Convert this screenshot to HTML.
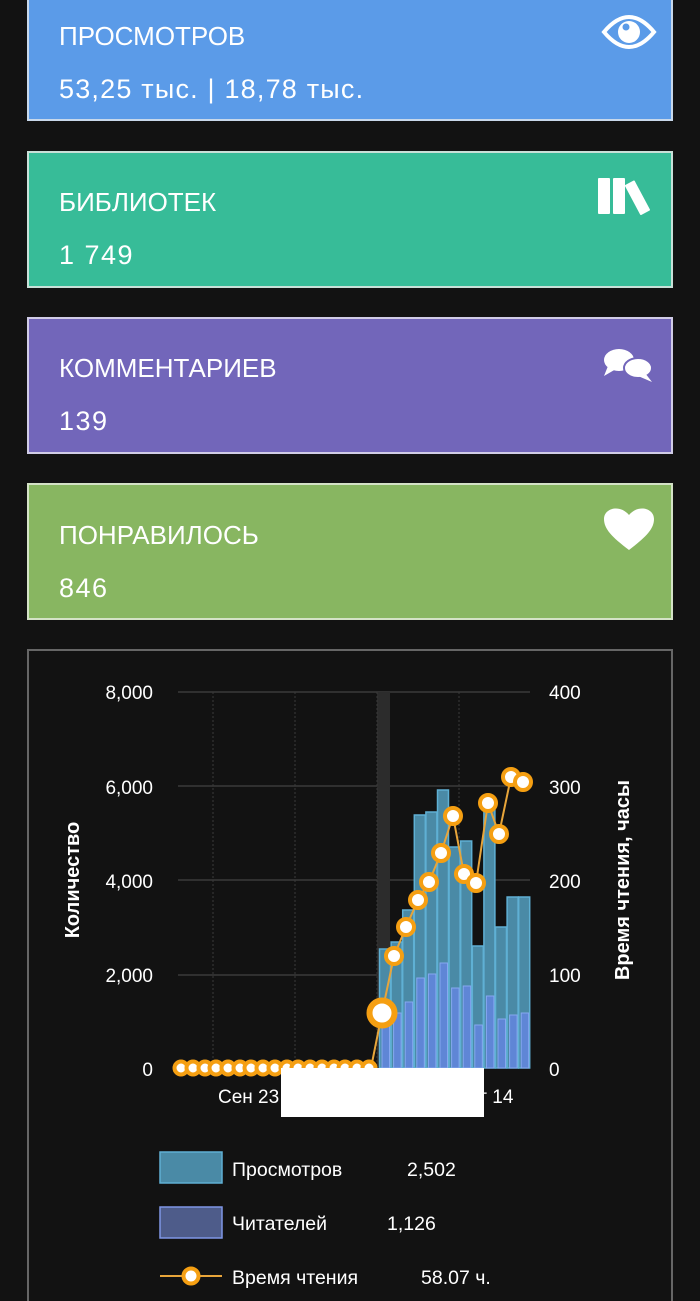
<!DOCTYPE html>
<html><head><meta charset="utf-8"><style>
html,body{margin:0;padding:0;background:#121212;}
svg{display:block;font-family:"Liberation Sans",sans-serif;}
</style></head><body>
<svg width="700" height="1301" viewBox="0 0 700 1301" xmlns="http://www.w3.org/2000/svg">
<rect width="700" height="1301" fill="#121212"/>
<!-- cards -->
<g font-size="26">
<rect x="28" y="-4" width="644" height="124" fill="#5b9be8" stroke="#c8d8ea" stroke-width="2"/>
<text x="59" y="45" fill="#fff">ПРОСМОТРОВ</text>
<text x="59" y="98" fill="#fff" font-size="27" letter-spacing="1.2">53,25 тыс. | 18,78 тыс.</text>
<g transform="translate(629,32)" fill="#fff">
<path d="M-25,0 Q0,-30 25,0 Q0,30 -25,0 Z" fill="none" stroke="#fff" stroke-width="4"/>
<circle cx="0" cy="0" r="11"/>
<circle cx="-3" cy="-5" r="3.5" fill="#5b9be8"/>
</g>
<rect x="28" y="152" width="644" height="135" fill="#37bc98" stroke="#c8e0d8" stroke-width="2"/>
<text x="59" y="211" fill="#fff">БИБЛИОТЕК</text>
<text x="59" y="264" fill="#fff" font-size="27" letter-spacing="1.5">1 749</text>
<g fill="#fff">
<rect x="598" y="178" width="12" height="36" rx="1"/>
<rect x="613" y="178" width="12" height="36" rx="1"/>
<rect x="632" y="181" width="11" height="34" rx="1" transform="rotate(-28 637 198)"/>
</g>
<rect x="28" y="318" width="644" height="135" fill="#7266ba" stroke="#d0cce6" stroke-width="2"/>
<text x="59" y="377" fill="#fff">КОММЕНТАРИЕВ</text>
<text x="59" y="430" fill="#fff" font-size="27" letter-spacing="1.5">139</text>
<g fill="#fff">
<ellipse cx="619" cy="360" rx="15" ry="11"/>
<path d="M608,366 L604,376 L616,369 Z"/>
<ellipse cx="638" cy="368" rx="14" ry="10" stroke="#7266ba" stroke-width="2"/>
<path d="M645,373 L652,382 L638,376 Z"/>
</g>
<rect x="28" y="484" width="644" height="135" fill="#88b661" stroke="#d4e2c6" stroke-width="2"/>
<text x="59" y="544" fill="#fff">ПОНРАВИЛОСЬ</text>
<text x="59" y="597" fill="#fff" font-size="27" letter-spacing="1.5">846</text>
<path d="M629,550 C612,537 604,529 604,519 C604,508 620,504 629,515 C638,504 654,508 654,519 C654,529 646,537 629,550 Z" fill="#fff"/>
</g>
<!-- chart box -->
<rect x="28" y="650" width="644" height="660" fill="#121212" stroke="#666" stroke-width="2"/>
<!-- grid -->
<g stroke="#3a3a3a" stroke-width="1.5">
<line x1="178" y1="692" x2="530" y2="692"/>
<line x1="178" y1="786" x2="530" y2="786"/>
<line x1="178" y1="880" x2="530" y2="880"/>
<line x1="178" y1="975" x2="530" y2="975"/>
</g>
<rect x="377" y="692" width="13" height="376" fill="#2c2c2c"/>
<g stroke="#3a3a3a" stroke-width="1" stroke-dasharray="2,2">
<line x1="213" y1="692" x2="213" y2="1068"/>
<line x1="295" y1="692" x2="295" y2="1068"/>
<line x1="377" y1="692" x2="377" y2="1068"/>
<line x1="459" y1="692" x2="459" y2="1068"/>
</g>
<!-- axis labels -->
<g fill="#fff" font-size="19" text-anchor="end">
<text x="153" y="699">8,000</text>
<text x="153" y="794">6,000</text>
<text x="153" y="888">4,000</text>
<text x="153" y="982">2,000</text>
<text x="153" y="1076">0</text>
</g>
<g fill="#fff" font-size="19">
<text x="549" y="699">400</text>
<text x="549" y="794">300</text>
<text x="549" y="888">200</text>
<text x="549" y="982">100</text>
<text x="549" y="1076">0</text>
</g>
<text transform="translate(79,880) rotate(-90)" fill="#fff" font-size="20" font-weight="bold" text-anchor="middle">Количество</text>
<text transform="translate(629,880) rotate(-90)" fill="#fff" font-size="20" font-weight="bold" text-anchor="middle">Время чтения, часы</text>
<!-- bars -->
<g fill="#4a8aa6" stroke="#5fb0d4" stroke-width="1.5">
<rect x="379.5" y="949" width="11" height="119"/>
<rect x="391.1" y="942" width="11" height="126"/>
<rect x="402.7" y="910" width="11" height="158"/>
<rect x="414.3" y="815" width="11" height="253"/>
<rect x="425.9" y="812" width="11" height="256"/>
<rect x="437.5" y="790" width="11" height="278"/>
<rect x="449.1" y="847" width="11" height="221"/>
<rect x="460.7" y="841" width="11" height="227"/>
<rect x="472.3" y="946" width="11" height="122"/>
<rect x="483.9" y="803" width="11" height="265"/>
<rect x="495.5" y="927" width="11" height="141"/>
<rect x="507.1" y="897" width="11" height="171"/>
<rect x="518.7" y="897" width="11" height="171"/>
</g>
<g fill="#5f86d6" stroke="#86a8f0" stroke-width="1">
<rect x="382" y="1015" width="7.5" height="53"/>
<rect x="393.6" y="1013" width="7.5" height="55"/>
<rect x="405.2" y="1002" width="7.5" height="66"/>
<rect x="416.8" y="978" width="7.5" height="90"/>
<rect x="428.4" y="974" width="7.5" height="94"/>
<rect x="440" y="963" width="7.5" height="105"/>
<rect x="451.6" y="988" width="7.5" height="80"/>
<rect x="463.2" y="986" width="7.5" height="82"/>
<rect x="474.8" y="1025" width="7.5" height="43"/>
<rect x="486.4" y="996" width="7.5" height="72"/>
<rect x="498" y="1019" width="7.5" height="49"/>
<rect x="509.6" y="1015" width="7.5" height="53"/>
<rect x="521.2" y="1013" width="7.5" height="55"/>
</g>
<!-- line -->
<polyline fill="none" stroke="#e8a53a" stroke-width="2" points="181,1068 371,1068 382,1013 394,956 406,927 418,900 429,882 441,853 453,816 464,874 476,883 488,803 499,834 511,777 523,782"/>
<g fill="#fff" stroke="#f59f12" stroke-width="4">
<circle cx="181" cy="1068" r="6.5"/><circle cx="193" cy="1068" r="6.5"/><circle cx="205" cy="1068" r="6.5"/><circle cx="216" cy="1068" r="6.5"/><circle cx="228" cy="1068" r="6.5"/><circle cx="240" cy="1068" r="6.5"/><circle cx="251" cy="1068" r="6.5"/><circle cx="263" cy="1068" r="6.5"/><circle cx="275" cy="1068" r="6.5"/><circle cx="287" cy="1068" r="6.5"/><circle cx="298" cy="1068" r="6.5"/><circle cx="310" cy="1068" r="6.5"/><circle cx="322" cy="1068" r="6.5"/><circle cx="334" cy="1068" r="6.5"/><circle cx="345" cy="1068" r="6.5"/><circle cx="357" cy="1068" r="6.5"/><circle cx="369" cy="1068" r="6.5"/>
<circle cx="382" cy="1013" r="12.5" stroke-width="6"/>
<circle cx="394" cy="956" r="8"/><circle cx="406" cy="927" r="8"/><circle cx="418" cy="900" r="8"/><circle cx="429" cy="882" r="8"/><circle cx="441" cy="853" r="8"/><circle cx="453" cy="816" r="8"/><circle cx="464" cy="874" r="8"/><circle cx="476" cy="883" r="8"/><circle cx="488" cy="803" r="8"/><circle cx="499" cy="834" r="8"/><circle cx="511" cy="777" r="8"/><circle cx="523" cy="782" r="8"/>
</g>
<!-- x labels -->
<text x="218" y="1103" fill="#fff" font-size="19">Сен 23</text>
<text x="455" y="1103" fill="#fff" font-size="19">Окт 14</text>
<rect x="281" y="1068" width="203" height="49" fill="#fff"/>
<!-- legend -->
<g font-size="19.5" fill="#fff">
<rect x="160" y="1152" width="62" height="31" fill="#4a8aa6" stroke="#5fb0d4" stroke-width="1.5"/>
<text x="232" y="1176">Просмотров</text>
<text x="407" y="1176">2,502</text>
<rect x="160" y="1207" width="62" height="31" fill="#4e5c8a" stroke="#7f96e6" stroke-width="1.5"/>
<text x="232" y="1230">Читателей</text>
<text x="387" y="1230">1,126</text>
<line x1="160" y1="1276" x2="222" y2="1276" stroke="#e8a53a" stroke-width="2"/>
<circle cx="191" cy="1276" r="7.5" fill="#fff" stroke="#f59f12" stroke-width="4"/>
<text x="232" y="1284">Время чтения</text>
<text x="421" y="1284">58.07 ч.</text>
</g>
</svg>
</body></html>
